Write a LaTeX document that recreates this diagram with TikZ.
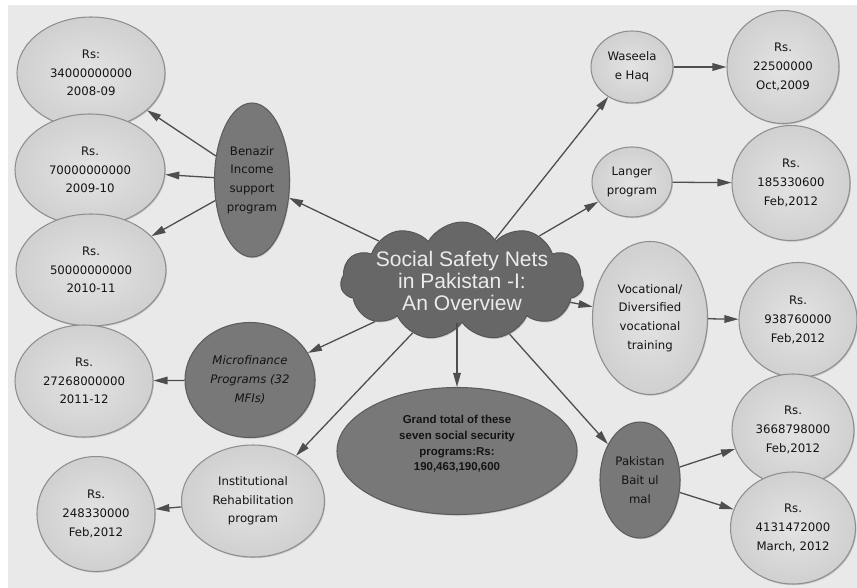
\documentclass[tikz,border=0pt]{standalone}
\usepackage{fontspec}
\setmainfont{DejaVu Sans}
\newfontfamily\hubfont{Liberation Sans}
\usetikzlibrary{arrows.meta,shapes.geometric,shapes.symbols,shadows}

\begin{document}
\begin{tikzpicture}[x=0.03cm,y=-0.03cm,>={Triangle[length=12pt,width=6.5pt]},
  sz/.style 2 args={minimum width=#1*0.03cm,minimum height=#2*0.03cm},
  bubble/.style={ellipse,inner sep=0pt,align=center,line width=0.9pt,
    font=\fontsize{10}{16}\selectfont,text=black!92,
    drop shadow={shadow xshift=0.8pt,shadow yshift=-1pt,opacity=0.35}},
  valnode/.style={bubble,draw=cEdge,inner color=cLightIn,outer color=cLightOut},
  lightprog/.style={valnode},
  darkprog/.style={bubble,draw=cDarkEdge,fill=cDark},
  grandnode/.style={bubble,draw=cDarkEdge,fill=cDark,
    font=\hubfont\bfseries\fontsize{9.8}{13.4}\selectfont},
  hub/.style={cloud,cloud puffs=11,cloud puff arc=120,aspect=2.1,inner sep=0pt,
    draw=cHubEdge,fill=cHub,line width=0.8pt,
    drop shadow={shadow xshift=0.8pt,shadow yshift=-1pt,opacity=0.35}},
  hubtext/.style={align=center,text=white!92!black,inner sep=0pt,
    font=\hubfont\fontsize{18}{18.5}\selectfont},
  link/.style={->,draw=cArrow,line width=1.1pt}]

% colors
\definecolor{cBack}{HTML}{E9E9E9}
\definecolor{cLightIn}{HTML}{E3E3E3}
\definecolor{cLightOut}{HTML}{D0D0D0}
\definecolor{cEdge}{HTML}{8E8E8E}
\definecolor{cDark}{HTML}{787878}
\definecolor{cDarkEdge}{HTML}{5C5C5C}
\definecolor{cHub}{HTML}{676767}
\definecolor{cHubEdge}{HTML}{555555}
\definecolor{cArrow}{HTML}{4E4E4E}

% canvas
\useasboundingbox (0,0) rectangle (857,588);
\fill[cBack] (8,5) rectangle (857,588);

% central cloud
\node[hub,sz={243}{118}] (hub) at (462,281) {};
\node[hubtext] (hubtext) at (hub) {Social Safety Nets\\in Pakistan -I:\\An Overview};

% left branches
\node[darkprog,sz={75}{154}] (bisp) at (252,180) {Benazir\\Income\\support\\program};
\node[valnode,sz={148}{112}] (bisp1) at (91,73) {Rs:\\34000000000\\2008-09};
\node[valnode,sz={150}{112}] (bisp2) at (90,170) {Rs.\\70000000000\\2009-10};
\node[valnode,sz={150}{112}] (bisp3) at (91,270) {Rs.\\50000000000\\2010-11};

\node[darkprog,sz={130}{115},font=\itshape\fontsize{10}{16}\selectfont] (mfp) at (250,380) {Microfinance\\Programs (32\\MFIs)};
\node[valnode,sz={138}{112}] (mfp1) at (84,381) {Rs.\\27268000000\\2011-12};

\node[lightprog,sz={143}{112}] (irp) at (253,501) {Institutional\\Rehabilitation\\program};
\node[valnode,sz={118}{115}] (irp1) at (96,514) {Rs.\\248330000\\Feb,2012};

% grand total
\node[grandnode,sz={240}{127}] (total) at (457,451) {Grand total of these\\seven social security\\programs:Rs:\\190,463,190,600\\\mbox{}};

% right branches
\node[lightprog,sz={82}{72}] (weh) at (632,67) {Waseela\\e Haq};
\node[valnode,sz={112}{113}] (weh1) at (783,67) {Rs.\\22500000\\Oct,2009};

\node[lightprog,sz={80}{70}] (lp) at (632,182) {Langer\\program};
\node[valnode,sz={118}{115}] (lp1) at (791,183) {Rs.\\185330600\\Feb,2012};

\node[lightprog,sz={115}{153}] (vdvt) at (650,318) {Vocational/\\Diversified\\vocational\\training};
\node[valnode,sz={118}{115}] (vdvt1) at (798,320) {Rs.\\938760000\\Feb,2012};

\node[darkprog,sz={80}{116}] (pbm) at (640,480) {Pakistan\\Bait ul\\mal};
\node[valnode,sz={122}{112}] (pbm1) at (793,430) {Rs.\\3668798000\\Feb,2012};
\node[valnode,sz={125}{112}] (pbm2) at (793,528) {Rs.\\4131472000\\March, 2012};

% arrows
\draw[link] (hub) -- (bisp);
\draw[link] (bisp) -- (bisp1);
\draw[link] (bisp) -- (bisp2);
\draw[link] (bisp) -- (bisp3);
\draw[link] (hub) -- (mfp);
\draw[link] (mfp) -- (mfp1);
\draw[link] (hub) -- (irp);
\draw[link] (irp) -- (irp1);
\draw[link] (total |- hub.south) -- (total);
\draw[link] (hub) -- (weh);
\draw[link] (weh) -- (weh1);
\draw[link] (hub) -- (lp);
\draw[link] (lp) -- (lp1);
\draw[link] (hub) -- (vdvt);
\draw[link] (vdvt) -- (vdvt1);
\draw[link] (hub) -- (pbm);
\draw[link] (pbm) -- (pbm1);
\draw[link] (pbm) -- (pbm2);

\end{tikzpicture}
\end{document}
